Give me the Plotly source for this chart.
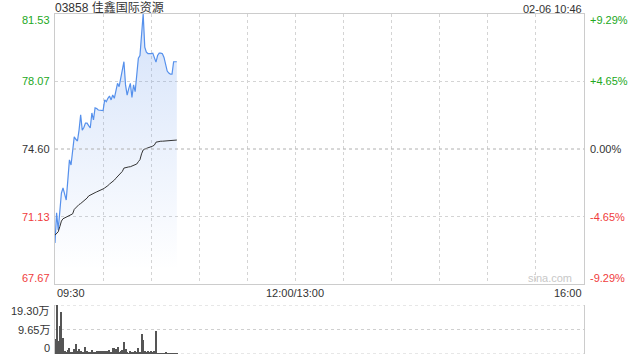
import plotly.graph_objects as go

# ---------------- data ----------------
stock_title = "03858 佳鑫国际资源"
stamp = "02-06 10:46"

# minutes elapsed since 09:30 (09:30 ... 10:46)
minutes = list(range(77))

price = [69.78, 71.32, 70.44, 71.40, 72.34, 72.60, 72.30, 71.98, 73.00, 74.04,
         73.78, 74.50, 75.22, 75.10, 75.01, 75.57, 76.35, 75.57, 75.70, 75.93,
         75.93, 75.80, 75.68, 76.45, 76.09, 76.71, 76.68, 76.60, 76.60, 76.58,
         76.57, 77.12, 77.03, 77.20, 77.32, 77.12, 77.37, 77.20, 77.60, 77.97,
         77.80, 78.20, 78.57, 79.08, 77.89, 77.37, 77.70, 77.97, 77.25, 77.89,
         77.54, 78.40, 79.26, 79.40, 80.71, 81.53, 79.83, 79.57, 79.50, 79.49,
         79.50, 79.52, 79.30, 79.06, 79.40, 79.52, 79.52, 79.49, 79.30, 78.90,
         78.60, 78.50, 78.44, 78.44, 79.08, 79.08, 79.08]

avg_price = [70.18, 70.25, 70.35, 70.61, 70.90, 71.02, 71.06, 71.10, 71.18, 71.22,
             71.25, 71.27, 71.50, 71.60, 71.70, 71.75, 71.80, 71.86, 71.92, 72.00,
             72.08, 72.19, 72.24, 72.30, 72.33, 72.36, 72.40, 72.43, 72.46, 72.50,
             72.55, 72.60, 72.65, 72.72, 72.80, 72.86, 72.92, 73.00, 73.10, 73.20,
             73.25, 73.40, 73.45, 73.62, 73.65, 73.67, 73.68, 73.69, 73.72, 73.75,
             73.78, 73.83, 73.95, 74.05, 74.35, 74.55, 74.60, 74.64, 74.67, 74.69,
             74.72, 74.75, 74.80, 74.95, 74.98, 74.99, 75.00, 75.00, 75.01, 75.02,
             75.03, 75.04, 75.04, 75.05, 75.05, 75.06, 75.06]

volume = [60000, 193000, 50000, 111000, 164000, 63000, 10000, 6000, 14000, 24000,
          8000, 5000, 20000, 41000, 10000, 20000, 10000, 6000, 4000, 26000,
          10000, 8000, 6000, 17000, 6000, 4000, 12000, 10000, 12000, 10000,
          12000, 10000, 12000, 10000, 17000, 6000, 24000, 24000, 20000, 27000,
          8000, 10000, 17000, 48000, 20000, 4000, 3000, 12000, 6000, 4000,
          10000, 6000, 24000, 6000, 80000, 56000, 12000, 6000, 10000, 6000,
          12000, 7000, 10000, 92000, 2000, 2000, 3000, 3000, 2000, 7000,
          3000, 2000, 3000, 2000, 3000, 2000, 2000]

price_ticks = [67.67, 71.13, 74.60, 78.07, 81.53]
price_labels = ["67.67", "71.13", "74.60", "78.07", "81.53"]
pct_labels = ["-9.29%", "-4.65%", "0.00%", "+4.65%", "+9.29%"]
tick_colors = ["#f03c3c", "#f03c3c", "#333333", "#22a822", "#22a822"]

vol_ticks = [0, 96500, 193000]
vol_labels = ["0", "9.65万", "19.30万"]

time_ticks = [0, 150, 330]
time_labels = ["09:30", "12:00/13:00", "16:00"]
time_anchor = ["left", "center", "right"]

prev_close = 74.60
session_len = 330
grid_step = 30

# ---------------- figure ----------------
FONT = "Arial, 'Liberation Sans', 'Noto Sans CJK SC', sans-serif"
fig = go.Figure()

fig.add_trace(go.Scatter(
    x=minutes, y=price, mode="lines",
    line=dict(color="#5590ec", width=1.2),
    fill="tozeroy",
    fillgradient=dict(type="vertical", start=68.4, stop=81.53,
                      colorscale=[[0, "rgba(100,150,235,0)"], [1, "rgba(100,150,235,0.27)"]]),
    xaxis="x", yaxis="y", hoverinfo="skip", showlegend=False))

fig.add_trace(go.Scatter(
    x=minutes, y=avg_price, mode="lines",
    line=dict(color="#333333", width=1),
    xaxis="x", yaxis="y", hoverinfo="skip", showlegend=False))

fig.add_trace(go.Bar(
    x=minutes, y=volume, width=0.65,
    marker=dict(color="#555555", line=dict(width=0)),
    xaxis="x2", yaxis="y2", hoverinfo="skip", showlegend=False))

main_bottom = 70 / 340
vol_top = 49 / 340

fig.update_layout(
    width=640, height=360,
    margin=dict(l=55, r=56, t=14, b=6),
    paper_bgcolor="white", plot_bgcolor="rgba(0,0,0,0)",
    font=dict(family=FONT, size=11, color="#333333"),
    bargap=0,
    xaxis=dict(domain=[0, 1], range=[0, session_len], anchor="y",
               tick0=0, dtick=grid_step, showticklabels=False, ticks="",
               showgrid=True, gridcolor="#d4d4d4", griddash="dot", gridwidth=1,
               showline=True, linecolor="#cccccc", linewidth=1, mirror=True,
               zeroline=False),
    yaxis=dict(domain=[main_bottom, 1], range=[price_ticks[0], price_ticks[-1]], anchor="x",
               tickvals=[price_ticks[1], price_ticks[3]], showticklabels=False, ticks="",
               showgrid=True, gridcolor="#d4d4d4", griddash="dot", gridwidth=1,
               showline=True, linecolor="#cccccc", linewidth=1, mirror=True,
               zeroline=False),
    xaxis2=dict(domain=[0, 1], range=[0, session_len], anchor="y2",
                showticklabels=False, ticks="", showgrid=False, zeroline=False,
                showline=False),
    yaxis2=dict(domain=[0, vol_top], range=[vol_ticks[0], vol_ticks[-1]], anchor="x2",
                showticklabels=False, ticks="", showgrid=False, zeroline=False,
                showline=True, linecolor="#cccccc", linewidth=1, mirror=True),
)

shapes = []
# previous-close dashed line
shapes.append(dict(type="line", xref="x domain", yref="y", x0=0, x1=1,
                   y0=prev_close, y1=prev_close, layer="above",
                   line=dict(color="#b0b0b0", width=1, dash="3px,3px")))
# volume grid lines
for v in vol_ticks:
    shapes.append(dict(type="line", xref="x2 domain", yref="y2", x0=0, x1=1,
                       y0=v, y1=v, layer="below",
                       line=dict(color="#cfcfcf", width=1, dash="dot")))
fig.update_layout(shapes=shapes)

ann = []
n = len(price_ticks)
for i, (v, lab, pl, c) in enumerate(zip(price_ticks, price_labels, pct_labels, tick_colors)):
    ys = -6 if i == n - 1 else (6 if i == 0 else 0)
    ann.append(dict(xref="paper", yref="y", x=0, y=v, text=lab, showarrow=False,
                    xanchor="right", yanchor="middle", xshift=-3, yshift=ys,
                    font=dict(color=c, size=11)))
    ann.append(dict(xref="paper", yref="y", x=1, y=v, text=pl, showarrow=False,
                    xanchor="left", yanchor="middle", xshift=4, yshift=ys,
                    font=dict(color=c, size=11)))

for i, (v, lab) in enumerate(zip(vol_ticks, vol_labels)):
    ys = -6 if i == len(vol_ticks) - 1 else (6 if i == 0 else 0)
    ann.append(dict(xref="paper", yref="y2", x=0, y=v, text=lab, showarrow=False,
                    xanchor="right", yanchor="middle", xshift=-3, yshift=ys,
                    font=dict(color="#333333", size=11)))

for v, lab, anc in zip(time_ticks, time_labels, time_anchor):
    ann.append(dict(xref="x", yref="paper", x=v, y=main_bottom, text=lab, showarrow=False,
                    xanchor=anc, yanchor="top", yshift=-1,
                    font=dict(color="#333333", size=11)))

ann.append(dict(xref="paper", yref="paper", x=0, y=1, text=stock_title, showarrow=False,
                xanchor="left", yanchor="bottom", yshift=-3, xshift=-2,
                font=dict(color="#333333", size=12)))
ann.append(dict(xref="paper", yref="paper", x=1, y=1, text=stamp, showarrow=False,
                xanchor="right", yanchor="bottom", yshift=-3,
                font=dict(color="#333333", size=11)))
ann.append(dict(xref="paper", yref="paper", x=1, y=main_bottom, text="sina.com", showarrow=False,
                xanchor="right", yanchor="bottom", xshift=-10, yshift=-2,
                font=dict(color="#c8c8c8", size=11)))
fig.update_layout(annotations=ann)

fig.write_html("out.html")
